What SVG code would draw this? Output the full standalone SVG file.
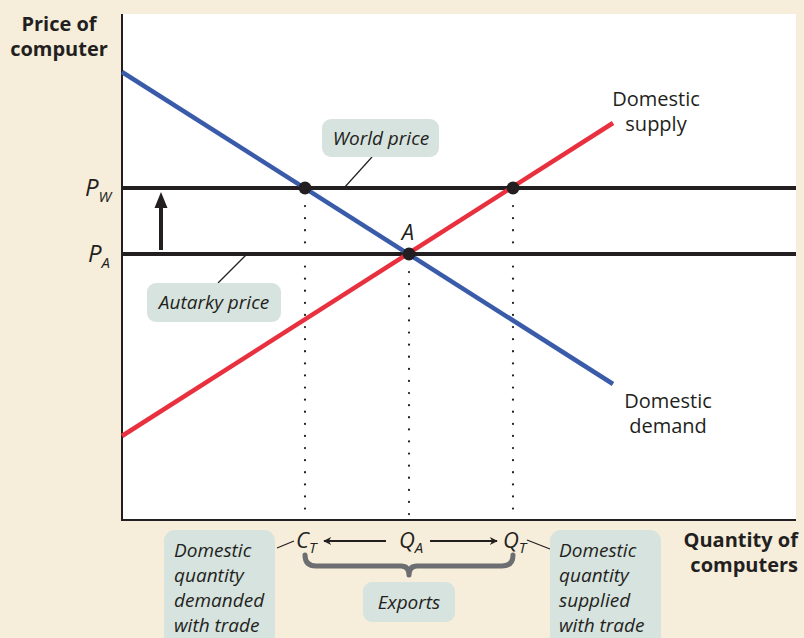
<svg xmlns="http://www.w3.org/2000/svg" width="804" height="638" viewBox="0 0 804 638">
<style>
.t{font-family:"Open Sans","Noto Sans",sans-serif;fill:#231f20}
.b{font-weight:bold}
.i{font-style:italic}
.box{fill:#d7e3de}
.lead{stroke:#231f20;stroke-width:1.2;fill:none}
.dot{stroke:#231f20;stroke-width:2.2;stroke-dasharray:0.1 12;stroke-linecap:round;fill:none}
</style>
<defs>
<marker id="ah" viewBox="0 0 10 10" refX="9" refY="5" markerWidth="14" markerHeight="8" markerUnits="userSpaceOnUse" orient="auto"><path d="M0,0 L10,5 L0,10 L3,5 Z" fill="#231f20"/></marker>
</defs>
<rect width="804" height="638" fill="#f6eddb"/>
<rect x="122" y="14" width="674" height="506" fill="#ffffff"/>
<g id="axes" stroke="#231f20" stroke-width="2" fill="none">
<path d="M122,14 V520 H796"/>
</g>
<g id="axis-labels">
<text class="t b" x="59" y="31" font-size="20" text-anchor="middle">Price of</text>
<text class="t b" x="59" y="56" font-size="20" text-anchor="middle">computer</text>
<text class="t b" x="798" y="547" font-size="20" text-anchor="end">Quantity of</text>
<text class="t b" x="798" y="572" font-size="20" text-anchor="end">computers</text>
</g>
<g id="connectors">
<line id="world-price-line" x1="122" y1="188" x2="796" y2="188" stroke="#231f20" stroke-width="4"/>
<line id="autarky-price-line" x1="122" y1="254" x2="796" y2="254" stroke="#231f20" stroke-width="4"/>
<line id="demand" x1="122" y1="72" x2="613" y2="384" stroke="#3a5ba9" stroke-width="4.5"/>
<line id="supply" x1="122" y1="436" x2="613" y2="123" stroke="#e8303f" stroke-width="4.5"/>
<path class="dot" d="M305,206 V520 M409,272 V520 M513,206 V520"/>
<path d="M159,250 V208 H154.5 L161,192 L167.5,208 H163 V250 Z" fill="#231f20"/>
<line class="lead" x1="372" y1="157" x2="344" y2="188"/>
<line class="lead" x1="218" y1="283" x2="246" y2="255"/>
<line class="lead" x1="277" y1="548" x2="294" y2="541"/>
<line class="lead" x1="527" y1="540" x2="550" y2="549"/>
<line x1="386" y1="541" x2="324" y2="541" stroke="#231f20" stroke-width="1.8" marker-end="url(#ah)"/>
<line x1="430" y1="541" x2="497" y2="541" stroke="#231f20" stroke-width="1.8" marker-end="url(#ah)"/>
<path d="M305,555 Q305,566 316,566 H401 Q409,566 409,575 Q409,566 417,566 H502 Q513,566 513,555" stroke="#6d6e71" stroke-width="5" fill="none" stroke-linecap="round" stroke-linejoin="round"/>
</g>
<g id="points" fill="#231f20">
<circle cx="305" cy="188" r="6.5"/>
<circle cx="409" cy="254" r="6.5"/>
<circle cx="513" cy="188" r="6.5"/>
</g>
<g id="price-labels">
<text class="t i" x="85" y="196" font-size="24">P<tspan font-size="15" dy="6">W</tspan></text>
<text class="t i" x="88" y="262" font-size="24">P<tspan font-size="15" dy="6">A</tspan></text>
<text class="t i" x="408" y="240" font-size="22" text-anchor="middle">A</text>
</g>
<g id="curve-labels">
<text class="t" x="656" y="106" font-size="20" text-anchor="middle">Domestic</text>
<text class="t" x="656" y="131" font-size="20" text-anchor="middle">supply</text>
<text class="t" x="668" y="408" font-size="20" text-anchor="middle">Domestic</text>
<text class="t" x="668" y="433" font-size="20" text-anchor="middle">demand</text>
</g>
<g id="world-price">
<rect class="box" x="322" y="119" width="117" height="38" rx="9"/>
<text class="t i" x="381" y="145" font-size="19" text-anchor="middle">World price</text>
</g>
<g id="autarky-price">
<rect class="box" x="147" y="283" width="134" height="39" rx="9"/>
<text class="t i" x="214" y="309" font-size="19" text-anchor="middle">Autarky price</text>
</g>
<g id="qty-labels">
<text class="t i" x="296" y="548" font-size="22">C<tspan font-size="15" dy="5">T</tspan></text>
<text class="t i" x="399" y="548" font-size="22">Q<tspan font-size="15" dy="5">A</tspan></text>
<text class="t i" x="503" y="548" font-size="22">Q<tspan font-size="15" dy="5">T</tspan></text>
</g>
<g id="demanded-with-trade">
<rect class="box" x="164" y="530" width="111" height="120" rx="11"/>
<text class="t i" font-size="19" x="174"><tspan x="174" y="557">Domestic</tspan><tspan x="174" y="582">quantity</tspan><tspan x="174" y="607">demanded</tspan><tspan x="174" y="632">with trade</tspan></text>
</g>
<g id="supplied-with-trade">
<rect class="box" x="550" y="530" width="111" height="120" rx="11"/>
<text class="t i" font-size="19" x="559"><tspan x="559" y="557">Domestic</tspan><tspan x="559" y="582">quantity</tspan><tspan x="559" y="607">supplied</tspan><tspan x="559" y="632">with trade</tspan></text>
</g>
<g id="exports">
<rect class="box" x="363" y="582" width="92" height="40" rx="9"/>
<text class="t i" x="409" y="609" font-size="19" text-anchor="middle">Exports</text>
</g>
</svg>
